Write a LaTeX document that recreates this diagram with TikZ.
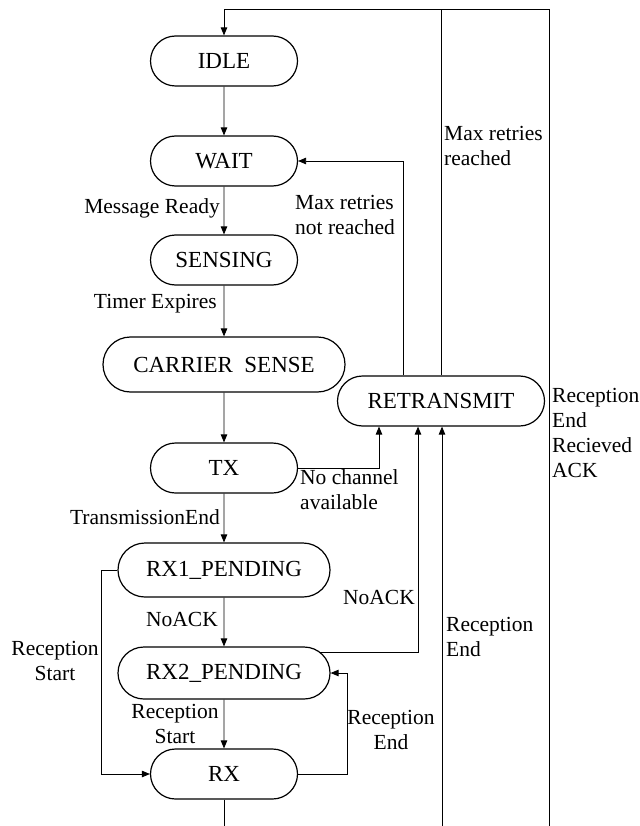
\documentclass[tikz,border=0pt]{standalone}
\usepackage{fontspec}
\setmainfont{Liberation Serif}
\usetikzlibrary{arrows.meta,shapes.misc}
\begin{document}
\begin{tikzpicture}[x=1pt,y=-1pt,
  statebox/.style={draw, rounded rectangle, line width=1.2pt, inner sep=0pt, font=\fontsize{23}{26}\selectfont},
  conn/.style={line width=0.85pt, -{Triangle[length=8pt,width=6.5pt]}},
  plain/.style={line width=0.85pt},
  lbl/.style={font=\fontsize{21.5}{25}\selectfont, inner sep=0pt}]
\useasboundingbox (0,0) rectangle (639,826);
% states
\node[statebox, minimum width=147pt, minimum height=50pt] (idle) at (224,61) {IDLE};
\node[statebox, minimum width=147pt, minimum height=50pt] (wait) at (224,161) {WAIT};
\node[statebox, minimum width=147pt, minimum height=50pt] (sensing) at (224,260) {SENSING};
\node[statebox, minimum width=242pt, minimum height=55pt] (cs) at (224,364.5) {CARRIER\ \ SENSE};
\node[statebox, minimum width=207pt, minimum height=50pt] (retx) at (441,401) {RETRANSMIT};
\node[statebox, minimum width=147pt, minimum height=50pt] (tx) at (224,468) {TX};
\node[statebox, minimum width=212pt, minimum height=54pt] (rx1) at (224,570) {RX1\_PENDING};
\node[statebox, minimum width=212pt, minimum height=52pt] (rx2) at (224,673) {RX2\_PENDING};
\node[statebox, minimum width=147pt, minimum height=50pt] (rx) at (224,774) {RX};
% free ends
\coordinate (top) at (549,9);
\coordinate (b0) at (224,826);
\coordinate (b1) at (442,826);
\coordinate (b2) at (549,826);
\coordinate (rx2o) at ([shift={(95.3,-21)}]rx2.center);
% main column
\draw[conn] (idle) -- (wait);
\draw[conn] (wait) -- (sensing);
\draw[conn] (sensing) -- (cs);
\draw[conn] (cs) -- (tx);
\draw[conn] (tx) -- (rx1);
\draw[conn] (rx1) -- (rx2);
\draw[conn] (rx2) -- (rx);
\draw[plain] (rx.south) -- (b0);
% side loops
\draw[conn] (rx1.west) -- ++(-16,0) |- (rx.west);
\draw[conn] (rx.east) -- ++(49,0) |- (rx2.east);
\draw[conn] (rx2o) -| ([xshift=-23pt]retx.south);
\draw[conn] (tx.east) -| ([xshift=-62pt]retx.south);
\draw[conn] ([xshift=-38pt]retx.north) |- (wait.east);
\draw[conn] (retx.north) -- (retx.north |- top) -| (idle.north);
\draw[plain] (b2) -- (top) -- (retx.north |- top);
\draw[conn] (b1) -- (b1 |- retx.south);
% labels
\node[lbl, anchor=east] (lmr) at (220,208) {Message Ready};
\node[lbl, anchor=east] (lte) at (217,304) {Timer Expires};
\node[lbl, anchor=east] (ltre) at (220,517) {TransmissionEnd};
\node[lbl, anchor=east] (lna1) at (218,619) {NoACK};
\node[lbl, anchor=east] (lna2) at (415,597) {NoACK};
\node[lbl, align=center] (lrs1) at (175,724) {Reception\\Start};
\node[lbl, align=center] (lrs2) at (55,660.5) {Reception\\Start};
\node[lbl, align=center] (lre1) at (391,729.5) {Reception\\End};
\node[lbl, anchor=west, align=left] (lre2) at (446,637) {Reception\\End};
\node[lbl, anchor=west, align=left] (lnc) at (300,490) {No channel\\available};
\node[lbl, anchor=west, align=left] (lmnr) at (295,215) {Max retries\\not reached};
\node[lbl, anchor=west, align=left] (lmr2) at (444,146) {Max retries\\reached};
\node[lbl, anchor=west, align=left] (lrera) at (552,433) {Reception\\End\\Recieved\\ACK};
\end{tikzpicture}
\end{document}
